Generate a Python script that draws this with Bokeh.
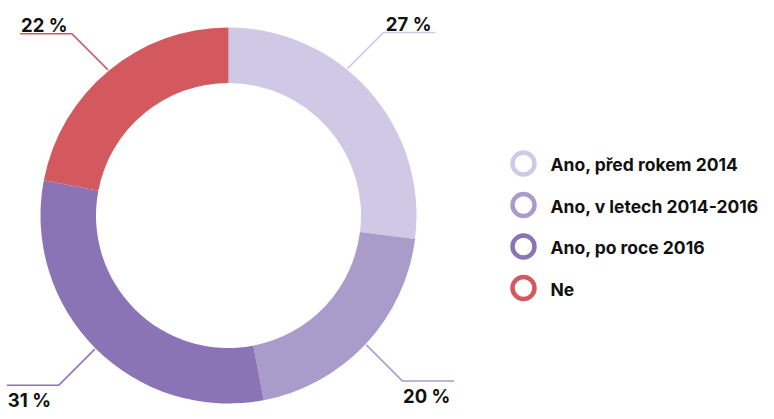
import numpy as np
from bokeh.plotting import figure
from bokeh.models import Range1d, ColumnDataSource
from bokeh.core.properties import value
from bokeh.embed import file_html
from bokeh.resources import INLINE

# ---- data ----
categories = ["Ano, před rokem 2014", "Ano, v letech 2014-2016", "Ano, po roce 2016", "Ne"]
shares = [27, 20, 31, 22]
labels = ["27 %", "20 %", "31 %", "22 %"]
colors = ["#d0c9e6", "#a99ccb", "#8a74b6", "#d4595f"]

# ---- layout (styling) ----
W, H = 766, 411
CX, CY = 228, 196          # donut centre in plot units (1 unit = 1 px)
R_OUT, R_IN = 188, 132.5
label_nudge = [9.6, 0, 0, 0]  # degrees, leader-line placement tweak
FONT = "Inter"

p = figure(width=W, height=H, output_backend="svg", toolbar_location=None,
           x_range=Range1d(0, W), y_range=Range1d(0, H), min_border=0)
p.axis.visible = False
p.grid.visible = False
p.outline_line_color = None
p.background_fill_color = "white"
p.border_fill_color = "white"

total = float(sum(shares))
frac = np.array(shares) / total
cum = np.concatenate([[0], np.cumsum(frac)])
start = np.pi / 2 - 2 * np.pi * cum[:-1]
end = np.pi / 2 - 2 * np.pi * cum[1:]

src = ColumnDataSource(dict(x=[CX] * len(shares), y=[CY] * len(shares),
                            start=start, end=end, color=colors))
p.annular_wedge(x="x", y="y", inner_radius=R_IN, outer_radius=R_OUT,
                start_angle="start", end_angle="end", direction="clock",
                fill_color="color", line_color=None, source=src)

# leader lines + labels
mid = (start + end) / 2 + np.radians(label_nudge)
R_LEAD, DIAG, HOR = 189, 36, 52
for i in range(len(shares)):
    a = mid[i]
    sx, sy = CX + R_LEAD * np.cos(a), CY + R_LEAD * np.sin(a)
    hx = 1 if np.cos(a) >= 0 else -1
    vy = 1 if np.sin(a) >= 0 else -1
    ex, ey = sx + hx * DIAG, sy + vy * DIAG
    fx = ex + hx * HOR
    p.line([sx, ex, fx], [sy, ey, ey], line_color=colors[i], line_width=1.5)
    ty = ey + 9 if vy > 0 else ey - 15
    if hx > 0:
        tx, align = fx - 4, "right"
    else:
        tx, align = fx + 1, "left"
    p.text(x=[tx], y=[ty], text=[labels[i]], text_font=value(FONT),
           text_font_style="bold", text_font_size="18.5px", text_color="#111111",
           text_align=align, text_baseline="alphabetic")

# legend
LX, LY0, LDY = 523, 248, -41.5
ly = [LY0 + k * LDY for k in range(len(categories))]
p.scatter(x=[LX] * len(categories), y=ly, size=22, marker="circle",
          fill_color="white", line_color=colors, line_width=4.5)
p.text(x=[LX + 27] * len(categories), y=[v - 1 for v in ly], text=categories,
       text_font=value(FONT), text_font_style="bold", text_font_size="17.5px",
       text_color="#111111", text_align="left", text_baseline="middle")

open("out.html", "w").write(file_html(p, INLINE))
